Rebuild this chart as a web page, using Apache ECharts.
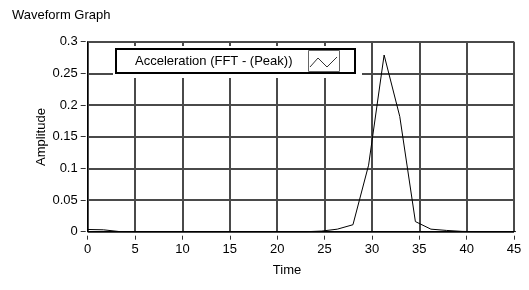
<!DOCTYPE html>
<html>
<head>
<meta charset="utf-8">
<script src="https://cdn.jsdelivr.net/npm/echarts@6/dist/echarts.min.js"></script>
<style>
html,body{margin:0;padding:0;background:#fff;}
#c{width:529px;height:290px;}
</style>
</head>
<body>
<div id="c"></div>
<script>
// Data
var timeValues = [0, 1.65, 3.29, 4.94, 6.59, 8.24, 9.88, 11.53, 13.18, 14.82, 16.47, 18.12, 19.76, 21.41, 23.06, 24.71, 26.35, 28.0, 29.65, 31.29, 32.94, 34.59, 36.23, 37.88, 39.53, 41.18, 42.82, 44.47, 46.12];
var amplitudeValues = [0.0035, 0.003, 0.0003, 0, 0, 0, 0, 0, 0, 0, 0, 0, 0, 0, 0, 0.001, 0.004, 0.011, 0.105, 0.279, 0.182, 0.016, 0.004, 0.002, 0.0005, 0, 0, 0, 0];
var xTickLabels = ['0', '5', '10', '15', '20', '25', '30', '35', '40', '45'];
var yTickLabels = ['0', '0.05', '0.1', '0.15', '0.2', '0.25', '0.3'];
var seriesName = 'Acceleration (FFT - (Peak))';
var chartTitle = 'Waveform Graph';
var xName = 'Time';
var yName = 'Amplitude';

var FONT = 'Liberation Sans';
var TXT = '#000';
var GRIDC = '#4a4a4a';

var points = timeValues.map(function (t, i) { return [t, amplitudeValues[i]]; });

var chart = echarts.init(document.getElementById('c'), null, {renderer: 'canvas'});
chart.setOption({
  animation: false,
  backgroundColor: '#fff',
  title: {
    text: chartTitle, left: 12, top: 9, padding: 0,
    textStyle: {fontFamily: FONT, fontSize: 13, fontWeight: 'normal', color: TXT}
  },
  grid: {left: 87.7, right: 15, top: 41.7, bottom: 58.3, containLabel: false},
  xAxis: [
    {
      type: 'value', min: 0, max: 45, interval: 5, position: 'bottom',
      axisLine: {show: true, onZero: false, lineStyle: {color: '#000', width: 1}},
      axisTick: {show: false}, axisLabel: {show: false},
      splitLine: {show: true, lineStyle: {color: GRIDC, width: 2}}
    },
    {
      type: 'value', min: 0, max: 45, interval: 5, position: 'bottom', offset: 4,
      axisLine: {show: false, onZero: false},
      axisTick: {show: true, length: 4, lineStyle: {color: '#333', width: 1}},
      axisLabel: {show: true, margin: 7, fontFamily: FONT, fontSize: 13, color: TXT,
        formatter: function (v) { return xTickLabels[Math.round(v / 5)]; }},
      splitLine: {show: false}
    }
  ],
  yAxis: [
    {
      type: 'value', min: 0, max: 0.3, interval: 0.05, position: 'left',
      axisLine: {show: true, onZero: false, lineStyle: {color: '#000', width: 1}},
      axisTick: {show: false}, axisLabel: {show: false},
      splitLine: {show: true, lineStyle: {color: GRIDC, width: 2}}
    },
    {
      type: 'value', min: 0, max: 0.3, interval: 0.05, position: 'left', offset: 2,
      axisLine: {show: false, onZero: false},
      axisTick: {show: true, length: 5, lineStyle: {color: '#333', width: 1}},
      axisLabel: {show: true, margin: 8, fontFamily: FONT, fontSize: 13, color: TXT,
        formatter: function (v) { return yTickLabels[Math.round(v / 0.05)]; }},
      splitLine: {show: false}
    }
  ],
  series: [{
    name: seriesName, type: 'line', xAxisIndex: 0, yAxisIndex: 0,
    data: points, showSymbol: false, symbol: 'none', clip: true,
    lineStyle: {color: '#000', width: 1}, z: 5
  }],
  graphic: [
    {type: 'text', x: 287, y: 270, style: {text: xName, fontFamily: FONT, fontSize: 13, fill: TXT, align: 'center', verticalAlign: 'middle'}},
    {type: 'text', x: 41, y: 137, rotation: Math.PI / 2, style: {text: yName, fontFamily: FONT, fontSize: 13, fill: TXT, align: 'center', verticalAlign: 'middle'}},
    {type: 'rect', shape: {x: 113, y: 46, width: 249, height: 32}, style: {fill: '#fff'}, z: 50},
    {type: 'rect', shape: {x: 116, y: 49, width: 239, height: 24}, style: {fill: '#fff', stroke: '#000', lineWidth: 2}, z: 51},
    {type: 'text', x: 135, y: 61, style: {text: seriesName, fontFamily: FONT, fontSize: 13, fill: TXT, verticalAlign: 'middle'}, z: 52},
    {type: 'rect', shape: {x: 308.5, y: 50.5, width: 31, height: 21}, style: {fill: '#fff', stroke: '#666', lineWidth: 1}, z: 52},
    {type: 'polyline', shape: {points: [[310, 67], [318, 58], [327, 67], [337, 57]]}, style: {stroke: '#333', lineWidth: 1, fill: null}, z: 53}
  ]
});
</script>
</body>
</html>
